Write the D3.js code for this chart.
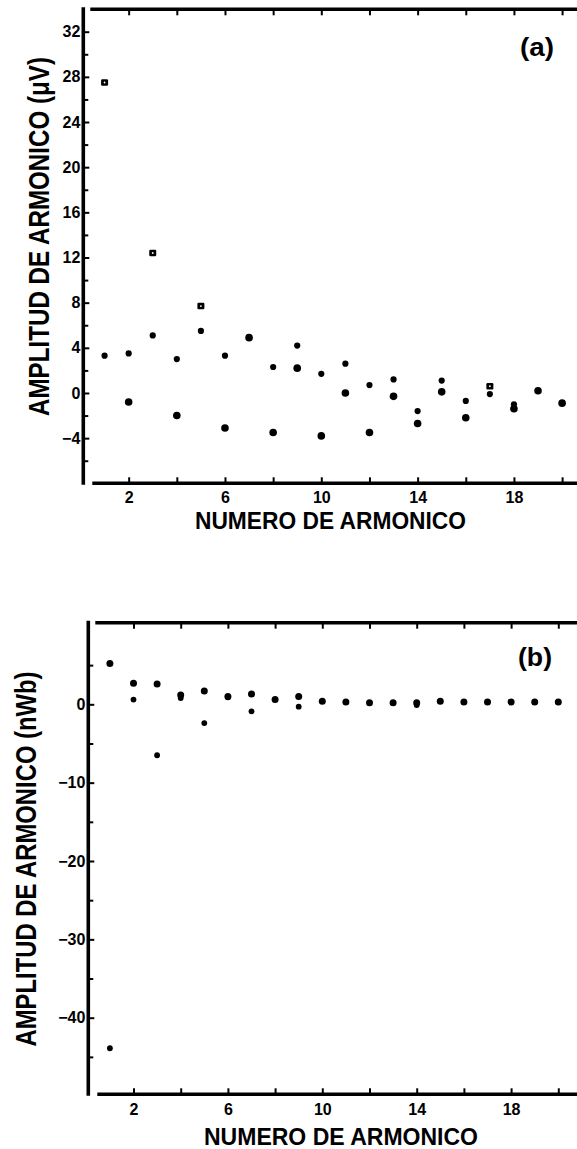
<!DOCTYPE html>
<html>
<head>
<meta charset="utf-8">
<script src="https://cdn.jsdelivr.net/npm/d3@7"></script>
<style>
  body { margin: 0; background: #fff; }
  svg { display: block; }
  text { font-family: "Liberation Sans", Arial, sans-serif; fill: #000; }
</style>
</head>
<body>
<svg id="grafico" width="577" height="1149"></svg>
<script>
// numero de armonico
var armonicos = [1, 2, 3, 4, 5, 6, 7, 8, 9, 10, 11, 12, 13, 14, 15, 16, 17, 18, 19, 20];

// (a) amplitud en microvoltios, dos coeficientes por armonico
var voltA1 = [27.5, -0.8, 12.4, -2.0, 7.7, -3.1, 4.9, -3.5, 2.2, -3.8, 0.0, -3.5, -0.3, -2.7, 0.1, -2.2, 0.6, -1.4, 0.2, -0.9];
var voltA2 = [3.3, 3.5, 5.1, 3.0, 5.5, 3.3, 4.9, 2.3, 4.2, 1.7, 2.6, 0.7, 1.2, -1.6, 1.1, -0.7, -0.1, -1.0, null, null];
var huecosA = [1, 3, 5, 17];   // marcas cuadradas con centro blanco

// (b) amplitud en nWb
var flujoB1 = [5.2, 2.7, 2.6, 1.2, 1.7, 1.0, 1.3, 0.6, 1.0, 0.4, 0.3, 0.2, 0.2, 0.2, 0.4, 0.3, 0.3, 0.3, 0.3, 0.3];
var flujoB2 = [-43.9, 0.6, -6.5, 0.8, -2.4, 0.9, -0.9, null, -0.3, null, null, null, null, -0.1, null, null, null, null, null, null];

// ticks
var ticksX = [2, 4, 6, 8, 10, 12, 14, 16, 18, 20];
var etiquetasX = [2, 6, 10, 14, 18];
var mayoresYA = [-4, 0, 4, 8, 12, 16, 20, 24, 28, 32];
var menoresYA = [-6, -2, 2, 6, 10, 14, 18, 22, 26, 30];
var mayoresYB = [-40, -30, -20, -10, 0];
var menoresYB = [-45, -35, -25, -15, -5, 5];

var svg = d3.select('#grafico');

function panel(p) {
  var g = svg.append('g');
  var x = p.x, y = p.y;

  // marco
  g.append('line').attr('x1', p.left).attr('x2', p.left).attr('y1', p.top - 2).attr('y2', p.bottom + 1.5)
    .attr('stroke', '#000').attr('stroke-width', 3.6);
  g.append('line').attr('x1', p.left + 7).attr('x2', 600).attr('y1', p.top).attr('y2', p.top)
    .attr('stroke', '#000').attr('stroke-width', 3.4);
  g.append('line').attr('x1', p.left + 9).attr('x2', 600).attr('y1', p.bottom).attr('y2', p.bottom)
    .attr('stroke', '#000').attr('stroke-width', 3.4);

  // eje y
  var ejeY = g.append('g').attr('transform', 'translate(' + p.left + ',0)')
    .call(d3.axisLeft(y).tickValues(p.mayores).tickSize(-6).tickPadding(3).tickFormat(d3.format('d')));
  ejeY.select('.domain').remove();
  var ejeYm = g.append('g').attr('transform', 'translate(' + p.left + ',0)')
    .call(d3.axisLeft(y).tickValues(p.menores).tickSize(-5).tickFormat(''));
  ejeYm.select('.domain').remove();

  // eje x abajo y arriba
  var ejeX = g.append('g').attr('transform', 'translate(0,' + p.bottom + ')')
    .call(d3.axisBottom(x).tickValues(ticksX).tickSize(-6).tickPadding(p.padX)
      .tickFormat(function(d) { return etiquetasX.indexOf(d) >= 0 ? d : ''; }));
  ejeX.select('.domain').remove();
  var ejeT = g.append('g').attr('transform', 'translate(0,' + p.top + ')')
    .call(d3.axisTop(x).tickValues(ticksX).tickSize(-6).tickFormat(''));
  ejeT.select('.domain').remove();

  g.selectAll('.tick line').attr('stroke', '#000').attr('stroke-width', 2);
  g.selectAll('.tick text').style('font-size', '16px').style('font-weight', 'bold')
    .style('font-family', '"Liberation Sans", Arial, sans-serif').attr('fill', '#000');

  // puntos
  var datos1 = armonicos.map(function(n, i) { return { n: n, v: p.serie1[i] }; }).filter(function(d) { return d.v !== null; });
  var datos2 = armonicos.map(function(n, i) { return { n: n, v: p.serie2[i] }; }).filter(function(d) { return d.v !== null; });
  var llenos = datos1.filter(function(d) { return p.huecos.indexOf(d.n) < 0; });
  var huecos = datos1.filter(function(d) { return p.huecos.indexOf(d.n) >= 0; });

  g.selectAll('.s2').data(datos2).enter().append('circle')
    .attr('cx', function(d) { return x(d.n); }).attr('cy', function(d) { return y(d.v); })
    .attr('r', p.r2).attr('fill', '#000');
  g.selectAll('.s1').data(llenos).enter().append('circle')
    .attr('cx', function(d) { return x(d.n); }).attr('cy', function(d) { return y(d.v); })
    .attr('r', p.r1).attr('fill', '#000');
  g.selectAll('.cuadro').data(huecos).enter().append('rect')
    .attr('x', function(d) { return x(d.n) - 3.5; }).attr('y', function(d) { return y(d.v) - 3.2; })
    .attr('width', 7).attr('height', 6.4).attr('rx', 1.2).attr('fill', '#000');
  g.selectAll('.hueco').data(huecos).enter().append('circle')
    .attr('cx', function(d) { return x(d.n); }).attr('cy', function(d) { return y(d.v); })
    .attr('r', 0.9).attr('fill', '#fff');

  // titulos
  g.append('text').text('NUMERO DE ARMONICO')
    .attr('x', p.tituloX[0]).attr('y', p.tituloX[1])
    .attr('text-anchor', 'middle').attr('textLength', p.tituloX[2]).attr('lengthAdjust', 'spacingAndGlyphs')
    .style('font-size', '24px').style('font-weight', 'bold');
  g.append('text').text(p.tituloY)
    .attr('transform', 'translate(' + p.posY[0] + ',' + p.posY[1] + ') rotate(-90) scale(1,1.2)')
    .attr('text-anchor', 'middle').attr('textLength', p.posY[2]).attr('lengthAdjust', 'spacingAndGlyphs')
    .style('font-size', '24px').style('font-weight', 'bold');
  g.append('text').text(p.etiqueta)
    .attr('x', p.posEtiqueta[0]).attr('y', p.posEtiqueta[1])
    .attr('text-anchor', 'middle').attr('textLength', 34).attr('lengthAdjust', 'spacingAndGlyphs')
    .style('font-size', '25px').style('font-weight', 'bold');
}

panel({
  x: d3.scaleLinear().domain([0, 20]).range([80.5, 562.1]),
  y: d3.scaleLinear().domain([-8, 32]).range([483.3, 31.7]),
  left: 83.3, top: 9.3, bottom: 483.3, padX: 8,
  mayores: mayoresYA, menores: menoresYA,
  serie1: voltA1, serie2: voltA2, huecos: huecosA, r1: 3.8, r2: 3.1,
  tituloX: [330.5, 529.3, 271],
  tituloY: 'AMPLITUD DE ARMONICO (\u03bcV)', posY: [49, 236.5, 359],
  etiqueta: '(a)', posEtiqueta: [537, 56]
});

panel({
  x: d3.scaleLinear().domain([0, 20]).range([86.3, 558.3]),
  y: d3.scaleLinear().domain([-40, 0]).range([1017.7, 704.3]),
  left: 88.3, top: 622.7, bottom: 1094.3, padX: 9.5,
  mayores: mayoresYB, menores: menoresYB,
  serie1: flujoB1, serie2: flujoB2, huecos: [], r1: 3.5, r2: 2.9,
  tituloX: [341, 1145, 274],
  tituloY: 'AMPLITUD DE ARMONICO (nWb)', posY: [36, 859, 375],
  etiqueta: '(b)', posEtiqueta: [535, 666]
});
</script>
</body>
</html>
